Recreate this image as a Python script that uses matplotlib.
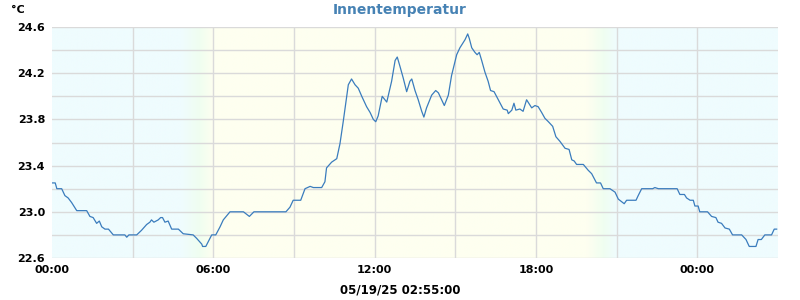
import numpy as np
import matplotlib
matplotlib.use("Agg")
import matplotlib.pyplot as plt
from matplotlib.colors import to_rgb

title = "Innentemperatur"
unit = "°C"
date_label = "05/19/25 02:55:00"
x_tick_hours = [0, 6, 12, 18, 24]
x_tick_labels = ["00:00", "06:00", "12:00", "18:00", "00:00"]
y_ticks = [22.6, 23.0, 23.4, 23.8, 24.2, 24.6]

hours = [0.0, 0.12, 0.18, 0.36, 0.48, 0.6, 0.73, 0.92, 1.29, 1.41, 1.53, 1.66, 1.76, 1.85, 1.97,
         2.1, 2.28, 2.71, 2.78, 2.86, 3.15, 3.33, 3.52, 3.64, 3.7, 3.79, 3.95, 4.04, 4.11, 4.2,
         4.32, 4.45, 4.7, 4.88, 5.25, 5.38, 5.57, 5.6, 5.72, 5.94, 6.09, 6.25, 6.37, 6.62, 7.12,
         7.34, 7.51, 8.7, 8.85, 8.97, 9.25, 9.41, 9.6, 9.72, 10.03, 10.15, 10.21, 10.4, 10.59,
         10.71, 10.83, 10.9, 11.02, 11.14, 11.27, 11.39, 11.52, 11.7, 11.83, 11.95, 12.04, 12.13,
         12.28, 12.45, 12.63, 12.76, 12.84, 12.94, 13.06, 13.19, 13.31, 13.38, 13.5, 13.62, 13.75,
         13.83, 13.93, 14.12, 14.27, 14.37, 14.49, 14.59, 14.74, 14.86, 15.05, 15.17, 15.36, 15.46,
         15.52, 15.61, 15.73, 15.81, 15.89, 15.98, 16.1, 16.22, 16.31, 16.44, 16.6, 16.78, 16.93,
         16.97, 17.1, 17.18, 17.25, 17.4, 17.52, 17.65, 17.84, 17.96, 18.08, 18.21, 18.33, 18.46,
         18.62, 18.74, 18.89, 19.08, 19.23, 19.33, 19.42, 19.51, 19.76, 19.94, 20.07, 20.25, 20.4,
         20.5, 20.75, 20.94, 21.06, 21.28, 21.37, 21.72, 21.8, 21.93, 22.24, 22.34, 22.42, 22.55,
         23.25, 23.35, 23.52, 23.6, 23.73, 23.85, 23.91, 24.03, 24.09, 24.38, 24.53, 24.69, 24.77,
         24.9, 25.03, 25.19, 25.31, 25.65, 25.81, 25.93, 26.18, 26.26, 26.38, 26.51, 26.76, 26.86,
         26.95]
temps = [23.25, 23.25, 23.2, 23.2, 23.14, 23.12, 23.08, 23.01, 23.01, 22.96, 22.95, 22.90, 22.92,
         22.87, 22.85, 22.85, 22.80, 22.80, 22.78, 22.80, 22.80, 22.84, 22.89, 22.91, 22.93, 22.91,
         22.93, 22.95, 22.95, 22.91, 22.92, 22.85, 22.85, 22.81, 22.80, 22.77, 22.72, 22.70, 22.70,
         22.80, 22.80, 22.87, 22.93, 23.0, 23.0, 22.96, 23.0, 23.0, 23.04, 23.1, 23.1, 23.2, 23.22,
         23.21, 23.21, 23.26, 23.38, 23.43, 23.46, 23.59, 23.78, 23.9, 24.1, 24.15, 24.1, 24.07,
         24.0, 23.91, 23.86, 23.8, 23.78, 23.83, 24.0, 23.95, 24.13, 24.31, 24.34, 24.26, 24.16,
         24.04, 24.13, 24.15, 24.05, 23.97, 23.87, 23.82, 23.9, 24.01, 24.05, 24.03, 23.97, 23.92,
         24.01, 24.18, 24.36, 24.42, 24.49, 24.54, 24.5, 24.42, 24.38, 24.36, 24.38, 24.31, 24.21,
         24.13, 24.05, 24.04, 23.97, 23.89, 23.88, 23.85, 23.88, 23.94, 23.88, 23.89, 23.87, 23.97,
         23.90, 23.92, 23.91, 23.86, 23.81, 23.78, 23.74, 23.65, 23.61, 23.55, 23.54, 23.45, 23.44,
         23.41, 23.41, 23.36, 23.33, 23.25, 23.25, 23.2, 23.2, 23.17, 23.11, 23.07, 23.1, 23.1,
         23.14, 23.2, 23.2, 23.2, 23.21, 23.2, 23.2, 23.15, 23.15, 23.12, 23.10, 23.10, 23.05, 23.05,
         23.0, 23.0, 22.96, 22.95, 22.91, 22.90, 22.86, 22.85, 22.80, 22.80, 22.76, 22.70, 22.70,
         22.76, 22.76, 22.80, 22.80, 22.85, 22.85]

fig = plt.figure(figsize=(8, 3), dpi=100)
ax = fig.add_axes([52/800, 42/300, 726/800, 231/300])
ax.set_xlim(0, 27)
ax.set_ylim(22.6, 24.6)

# day/night background gradient
night = np.array(to_rgb("#effcfe"))
mid = np.array(to_rgb("#f0fef0"))
day = np.array(to_rgb("#fefff0"))
xs = np.linspace(0, 27, 1000)
def col(x):
    if x < 4.8 or x > 21.0:
        return night
    if x < 5.5:
        t = (x - 4.8) / 0.7
        return night * (1 - t) + mid * t
    if x < 6.0:
        t = (x - 5.5) / 0.5
        return mid * (1 - t) + day * t
    if x < 19.9:
        return day
    if x < 20.5:
        t = (x - 19.9) / 0.6
        return day * (1 - t) + mid * t
    t = (x - 20.5) / 0.5
    return mid * (1 - t) + night * t
img = np.array([[col(x) for x in xs]])
ax.imshow(img, extent=[0, 27, 22.6, 24.6], aspect="auto", zorder=0, interpolation="bilinear")

for yv in np.arange(22.6, 24.61, 0.2):
    ax.axhline(yv, color="#dadada", lw=1.0, zorder=1)
for xv in np.arange(3, 27, 3):
    ax.axvline(xv, color="#dadada", lw=1.0, zorder=1)

ax.plot(hours, temps, color="#3a7cbd", lw=0.9, zorder=3)

for s in ax.spines.values():
    s.set_visible(False)
ax.set_xticks(x_tick_hours)
ax.set_xticklabels(x_tick_labels, fontsize=8, fontweight="bold")
ax.set_yticks(y_ticks)
ax.set_yticklabels([f"{v:.1f}" for v in y_ticks], fontsize=8, fontweight="bold")
ax.tick_params(length=0, pad=5)
ax.tick_params(axis="x", pad=5)

fig.text(400/800, 1 - 10/300, title, ha="center", va="center", fontsize=10, fontweight="bold", color="#4682b4")
fig.text(11/800, 1 - 10/300, unit, ha="left", va="center", fontsize=8, fontweight="bold")
fig.text(400/800, 1 - 290/300, date_label, ha="center", va="center", fontsize=8.5, fontweight="bold")

fig.savefig("out.png", dpi=100)
